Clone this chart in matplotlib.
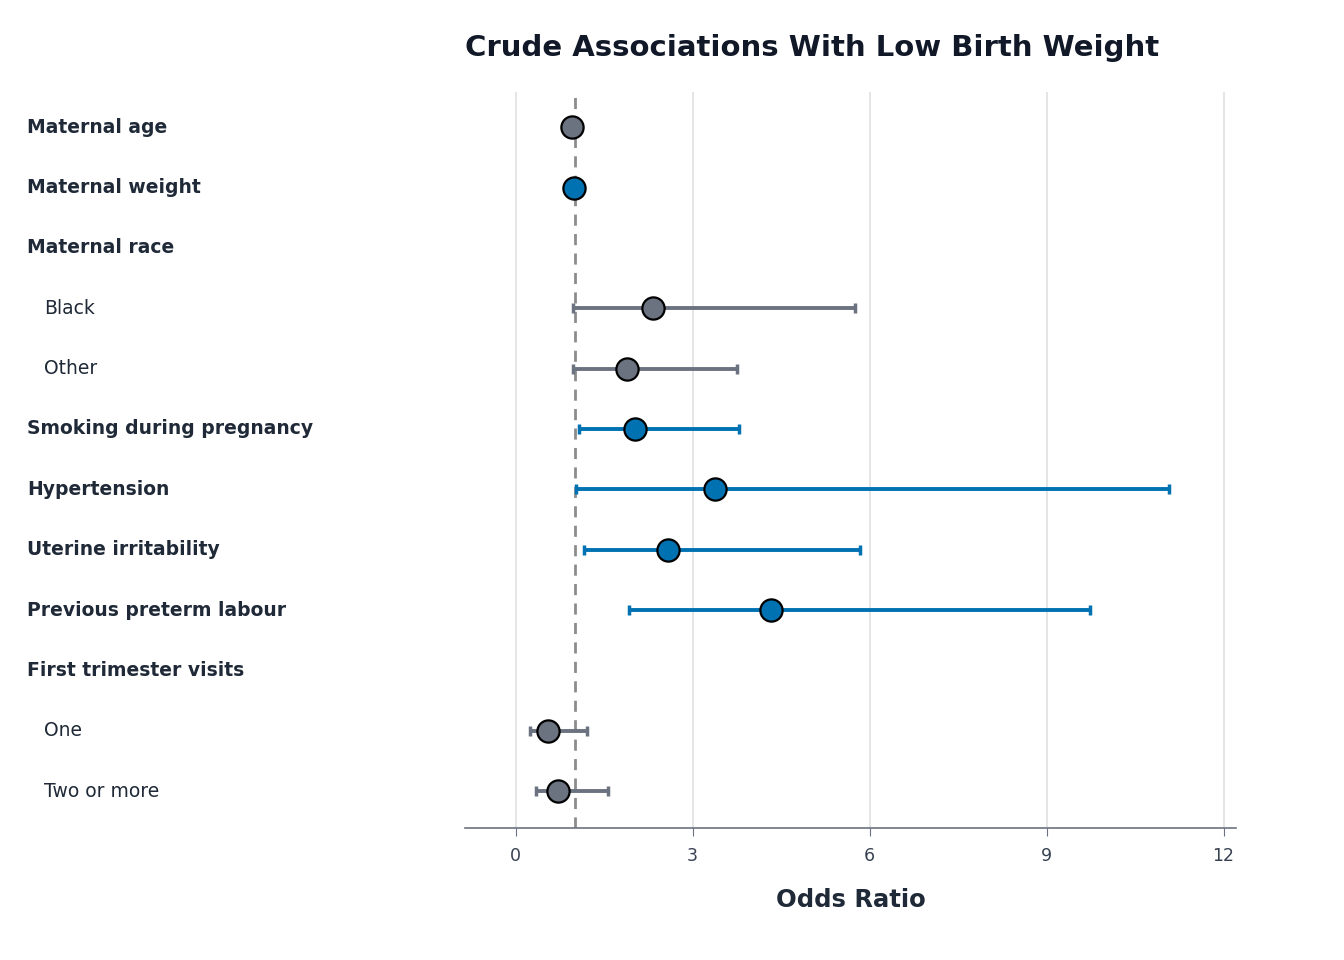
import matplotlib
matplotlib.use("Agg")
import matplotlib.pyplot as plt
from matplotlib.transforms import blended_transform_factory
import numpy as np

plt.rcParams['font.family'] = ['DejaVu Sans']

labels = ["Maternal age", "Maternal weight", "Maternal race", "Black", "Other",
          "Smoking during pregnancy", "Hypertension", "Uterine irritability",
          "Previous preterm labour", "First trimester visits", "One", "Two or more"]
is_header = [True, True, True, False, False, True, True, True, True, True, False, False]
odds = [0.95, 0.98, None, 2.32, 1.88, 2.02, 3.37, 2.58, 4.32, None, 0.54, 0.71]
lower = [0.95, 0.98, None, 0.97, 0.97, 1.08, 1.03, 1.15, 1.92, None, 0.25, 0.34]
upper = [0.95, 0.98, None, 5.76, 3.75, 3.78, 11.08, 5.83, 9.73, None, 1.20, 1.56]
significant = [False, True, False, False, False, True, True, True, True, False, False, False]

BLUE = "#0072B2"
GRAY = "#6B7280"
TXT = "#1F2937"

fig = plt.figure(figsize=(13.44, 9.6), dpi=100)
ax = fig.add_axes([0.346, 0.1375, 0.574, 0.7665])

for x in [0, 3, 6, 9, 12]:
    ax.axvline(x, color="#E0E0E0", lw=1.2, zorder=0)
ax.axvline(1, color="#8C8C8C", lw=2, ls=(0, (4, 3)), zorder=1)

for i, (o, lo, hi, s) in enumerate(zip(odds, lower, upper, significant)):
    if o is None:
        continue
    c = BLUE if s else GRAY
    ax.errorbar([o], [i], xerr=[[o - lo], [hi - o]], fmt="none", ecolor=c,
                elinewidth=2.8, capsize=3.5, capthick=2.5, zorder=2)
    ax.plot([o], [i], "o", ms=16, mfc=c, mec="black", mew=1.6, zorder=3)

ax.set_xlim(-0.86, 12.22)
ax.set_ylim(11.61, -0.58)
ax.set_yticks([])
ax.set_xticks([0, 3, 6, 9, 12])
ax.tick_params(axis="x", colors=GRAY, labelcolor="#374151", labelsize=12.5, length=6, pad=8)
for sp in ["top", "right", "left"]:
    ax.spines[sp].set_visible(False)
ax.spines["bottom"].set_color(GRAY)
ax.spines["bottom"].set_linewidth(1.2)

trans = blended_transform_factory(fig.transFigure, ax.transData)
for i, (lab, h) in enumerate(zip(labels, is_header)):
    if h:
        ax.text(27 / 1344, i, lab, transform=trans, fontsize=13.5, fontweight="bold",
                color=TXT, va="center", ha="left")
    else:
        ax.text(44 / 1344, i, lab, transform=trans, fontsize=13.5,
                color=TXT, va="center", ha="left")

ax.set_xlabel("Odds Ratio", fontsize=17.5, fontweight="bold", color=TXT, labelpad=16)
fig.text(465 / 1344, 1 - 48 / 960, "Crude Associations With Low Birth Weight",
         fontsize=21, fontweight="bold", color="#111827", va="center", ha="left")

fig.savefig("out.png", dpi=100)
